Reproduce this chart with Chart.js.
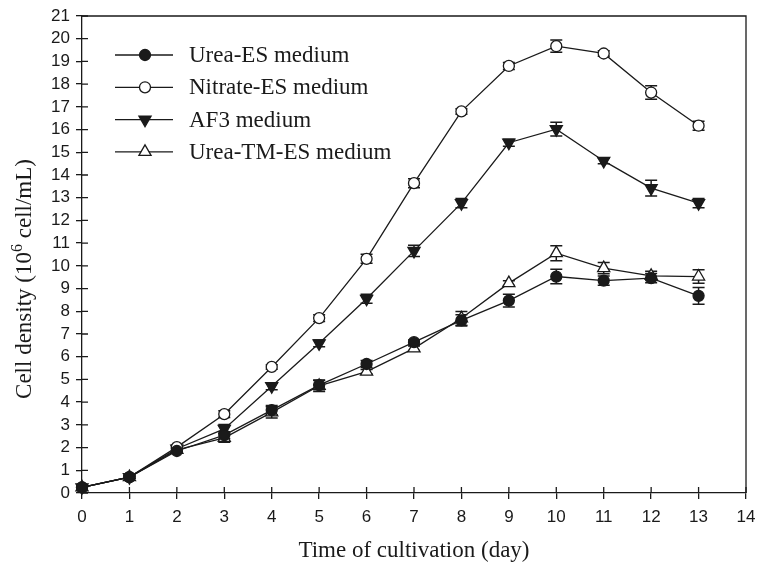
<!DOCTYPE html>
<html>
<head>
<meta charset="utf-8">
<script src="https://cdn.jsdelivr.net/npm/chart.js@4"></script>
<style>
  html, body { margin: 0; padding: 0; background: #fff; }
  #wrap { width: 757px; height: 562px; }
</style>
</head>
<body>
<div id="wrap"><canvas id="myChart" width="757" height="562"></canvas></div>
<script>
const days = [0, 1, 2, 3, 4, 5, 6, 7, 8, 9, 10, 11, 12, 13];

const ureaES = [0.25, 0.7, 1.85, 2.55, 3.65, 4.75, 5.68, 6.64, 7.6, 8.47, 9.53, 9.35, 9.46, 8.68];
const ureaESErr = [0.05, 0.05, 0.1, 0.15, 0.2, 0.2, 0.15, 0.1, 0.25, 0.28, 0.32, 0.2, 0.2, 0.37];

const nitrateES = [0.25, 0.7, 2.02, 3.47, 5.55, 7.7, 10.31, 13.64, 16.8, 18.8, 19.67, 19.35, 17.63, 16.17];
const nitrateESErr = [0.05, 0.05, 0.08, 0.15, 0.1, 0.15, 0.2, 0.2, 0.12, 0.15, 0.27, 0.12, 0.3, 0.2];

const af3 = [0.25, 0.7, 1.95, 2.82, 4.7, 6.59, 8.55, 10.66, 12.76, 15.42, 16.02, 14.62, 13.42, 12.76];
const af3Err = [0.05, 0.05, 0.1, 0.2, 0.15, 0.15, 0.2, 0.25, 0.2, 0.15, 0.3, 0.12, 0.35, 0.2];

const ureaTM = [0.25, 0.7, 1.9, 2.43, 3.55, 4.72, 5.34, 6.37, 7.69, 9.24, 10.56, 9.9, 9.56, 9.53];
const ureaTMErr = [0.05, 0.05, 0.08, 0.2, 0.25, 0.25, 0.1, 0.1, 0.3, 0.1, 0.33, 0.25, 0.2, 0.3];

const seriesNames = ['Urea-ES medium', 'Nitrate-ES medium', 'AF3 medium', 'Urea-TM-ES medium'];
const xTitle = 'Time of cultivation (day)';

const ink = '#1a1a1a';
const serif = '"Liberation Serif", "Times New Roman", serif';
const sans = '"Liberation Sans", Arial, sans-serif';

function pts(vals) {
  return days.map((d, i) => ({ x: d, y: vals[i] }));
}

function makeSet(label, vals, errs, style, rot, fill, radius) {
  return {
    label: label,
    data: pts(vals),
    errors: errs,
    borderColor: ink,
    borderWidth: 1.3,
    pointStyle: style,
    rotation: rot,
    pointRadius: radius,
    pointHoverRadius: radius,
    pointBackgroundColor: fill,
    pointBorderColor: ink,
    pointBorderWidth: 1.3,
    tension: 0,
    clip: false
  };
}

// error bars, drawn under the markers
const errorBars = {
  id: 'errorBars',
  beforeDatasetsDraw(chart) {
    const ctx = chart.ctx;
    const xs = chart.scales.x, ys = chart.scales.y;
    ctx.save();
    ctx.strokeStyle = ink;
    ctx.lineWidth = 1.5;
    chart.data.datasets.forEach(ds => {
      ds.data.forEach((p, i) => {
        const e = ds.errors[i];
        const px = xs.getPixelForValue(p.x);
        const top = ys.getPixelForValue(p.y + e);
        const bot = ys.getPixelForValue(p.y - e);
        ctx.beginPath();
        ctx.moveTo(px, top); ctx.lineTo(px, bot);
        ctx.moveTo(px - 6, top); ctx.lineTo(px + 6, top);
        ctx.moveTo(px - 6, bot); ctx.lineTo(px + 6, bot);
        ctx.stroke();
      });
    });
    ctx.restore();
  }
};

// frame, inner ticks, legend and axis titles
const decor = {
  id: 'decor',
  afterDraw(chart) {
    const ctx = chart.ctx;
    const a = chart.chartArea;
    const xs = chart.scales.x, ys = chart.scales.y;
    ctx.save();
    ctx.strokeStyle = ink;
    ctx.lineWidth = 1.3;
    ctx.beginPath();
    ctx.moveTo(a.left, a.top); ctx.lineTo(a.right, a.top); ctx.lineTo(a.right, a.bottom);
    ctx.stroke();

    ctx.beginPath();
    xs.ticks.forEach(t => {
      const px = xs.getPixelForValue(t.value);
      ctx.moveTo(px, a.bottom); ctx.lineTo(px, a.bottom - 6);
    });
    ys.ticks.forEach(t => {
      const py = ys.getPixelForValue(t.value);
      ctx.moveTo(a.left, py); ctx.lineTo(a.left + 6, py);
    });
    ctx.stroke();

    // legend
    ctx.font = '23px ' + serif;
    ctx.textBaseline = 'middle';
    ctx.textAlign = 'left';
    chart.data.datasets.forEach((ds, i) => {
      const y = 55 + i * 32.3;
      ctx.strokeStyle = ink;
      ctx.lineWidth = 1.3;
      ctx.beginPath();
      ctx.moveTo(115, y); ctx.lineTo(173, y);
      ctx.stroke();
      ctx.fillStyle = ds.pointBackgroundColor;
      Chart.helpers.drawPoint(ctx, {
        pointStyle: ds.pointStyle,
        rotation: ds.rotation,
        radius: ds.pointRadius,
        borderWidth: ds.pointBorderWidth
      }, 145, y);
      ctx.fillStyle = ink;
      ctx.fillText(ds.label, 189, y + 1);
    });

    // x title
    ctx.fillStyle = ink;
    ctx.textAlign = 'center';
    ctx.textBaseline = 'alphabetic';
    ctx.font = '23px ' + serif;
    ctx.fillText(xTitle, (a.left + a.right) / 2, 557);

    // y title with superscript
    const p1 = 'Cell density (10', p2 = '6', p3 = ' cell/mL)';
    const big = '23px ' + serif, small = '16px ' + serif;
    ctx.font = big;
    const w1 = ctx.measureText(p1).width, w3 = ctx.measureText(p3).width;
    ctx.font = small;
    const w2 = ctx.measureText(p2).width;
    const total = w1 + w2 + w3;
    ctx.translate(31, 279);
    ctx.rotate(-Math.PI / 2);
    ctx.textAlign = 'left';
    let x0 = -total / 2;
    ctx.font = big; ctx.fillText(p1, x0, 0);
    ctx.font = small; ctx.fillText(p2, x0 + w1, -9);
    ctx.font = big; ctx.fillText(p3, x0 + w1 + w2, 0);
    ctx.restore();
  }
};

const myChart = document.getElementById('myChart').getContext('2d');

const chart = new Chart(myChart, {
  type: 'line',
  data: {
    datasets: [
      makeSet(seriesNames[0], ureaES, ureaESErr, 'circle', 0, ink, 5.5),
      makeSet(seriesNames[1], nitrateES, nitrateESErr, 'circle', 0, '#fff', 5.5),
      makeSet(seriesNames[2], af3, af3Err, 'triangle', 180, ink, 7),
      makeSet(seriesNames[3], ureaTM, ureaTMErr, 'triangle', 0, '#fff', 7)
    ]
  },
  options: {
    responsive: false,
    animation: false,
    events: [],
    layout: { padding: { top: 16, right: 11, left: 0, bottom: 0 } },
    plugins: {
      legend: { display: false },
      tooltip: { enabled: false }
    },
    scales: {
      x: {
        type: 'linear',
        min: 0,
        max: 14,
        afterFit(scale) {
          scale.height = 69;
          scale.paddingLeft = 0;
          scale.paddingRight = 0;
        },
        ticks: { stepSize: 1, autoSkip: false, color: ink, font: { family: sans, size: 17 }, padding: 8, maxRotation: 0 },
        grid: { drawOnChartArea: false, tickLength: 6, color: ink, lineWidth: 1.3 },
        border: { display: true, color: ink, width: 1.3 }
      },
      y: {
        type: 'linear',
        min: 0,
        max: 21,
        afterFit(scale) {
          scale.width = 82;
          scale.paddingTop = 0;
          scale.paddingBottom = 0;
        },
        ticks: { stepSize: 1, autoSkip: false, color: ink, font: { family: sans, size: 17 }, padding: 6 },
        grid: { drawOnChartArea: false, tickLength: 6, color: ink, lineWidth: 1.3 },
        border: { display: true, color: ink, width: 1.3 }
      }
    }
  },
  plugins: [errorBars, decor]
});
</script>
</body>
</html>
